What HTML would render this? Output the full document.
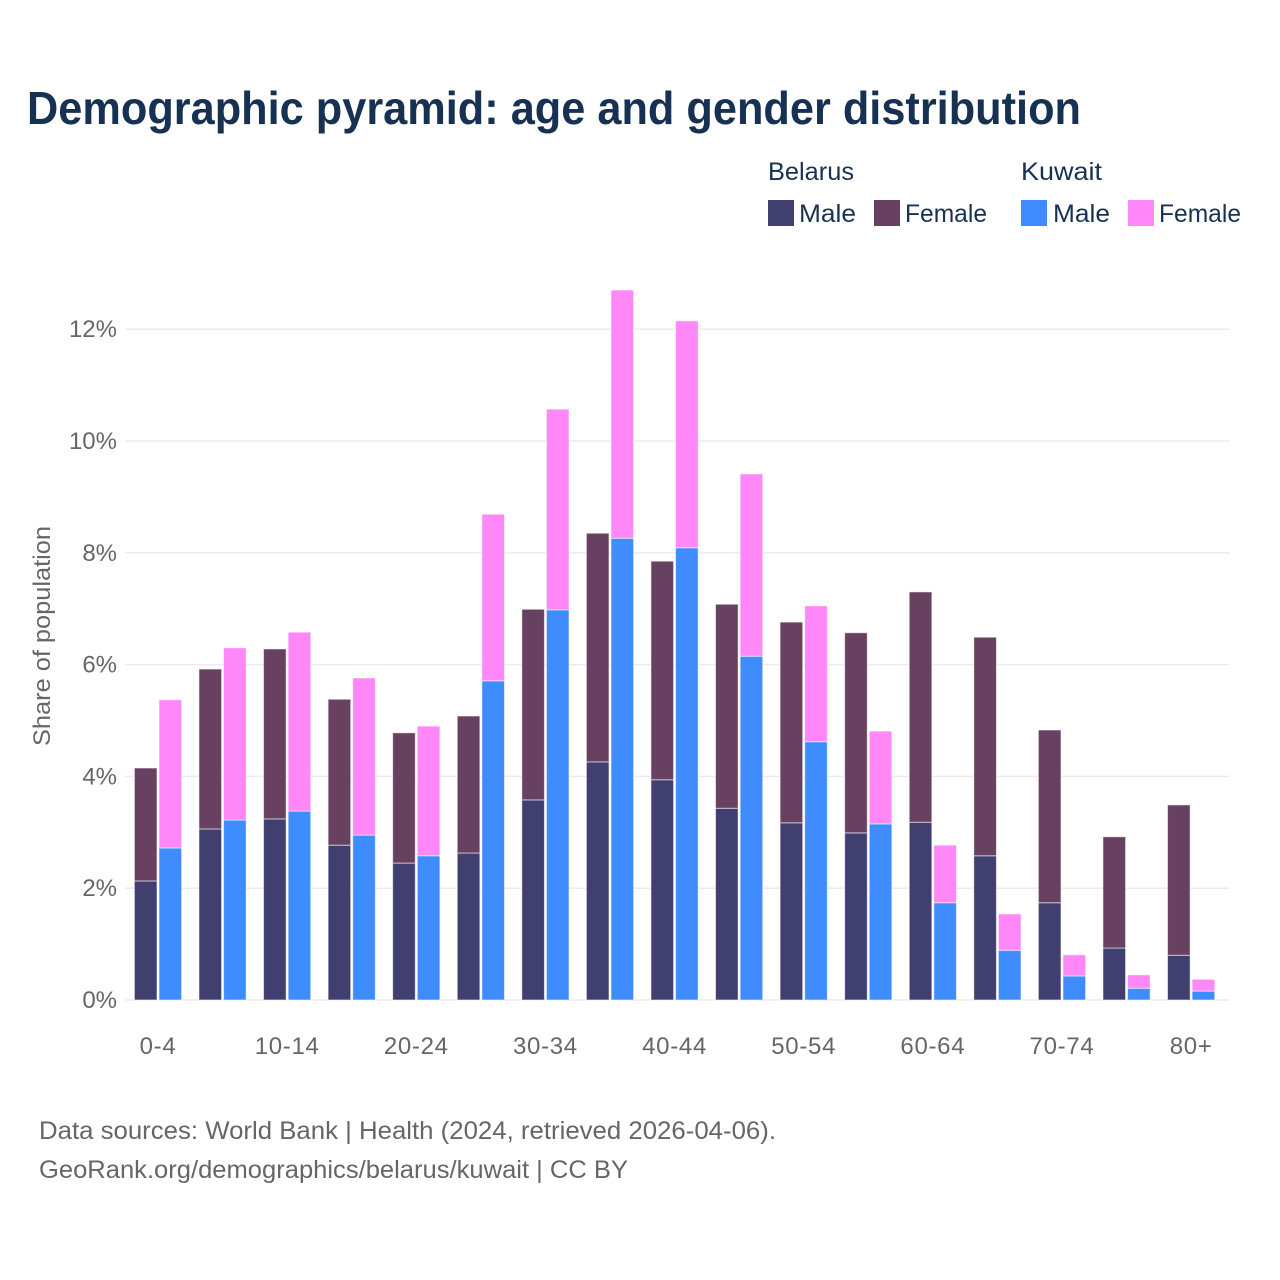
<!DOCTYPE html>
<html lang="en">
<head>
<meta charset="utf-8">
<title>Demographic pyramid</title>
<style>
html,body{margin:0;padding:0;background:#fff;width:1280px;height:1280px;overflow:hidden}
svg{display:block}
text{font-family:"Liberation Sans",sans-serif}
</style>
</head>
<body>
<svg id="chart" xmlns="http://www.w3.org/2000/svg" width="1280" height="1280" viewBox="0 0 1280 1280">
  <rect width="1280" height="1280" fill="#fff"/>
  <text x="27" y="124" font-size="46" font-weight="700" fill="#173153" textLength="1054" lengthAdjust="spacingAndGlyphs">Demographic pyramid: age and gender distribution</text>

  <g font-size="25" fill="#173153">
    <text x="768" y="180" textLength="86" lengthAdjust="spacingAndGlyphs">Belarus</text>
    <text x="1021" y="180" textLength="81" lengthAdjust="spacingAndGlyphs">Kuwait</text>
    <rect x="768" y="200" width="26" height="26" fill="#413f70"/>
    <text x="799" y="222" textLength="57" lengthAdjust="spacingAndGlyphs">Male</text>
    <rect x="874" y="200" width="26" height="26" fill="#684160"/>
    <text x="905" y="222" textLength="82" lengthAdjust="spacingAndGlyphs">Female</text>
    <rect x="1021" y="200" width="26" height="26" fill="#3f8cff"/>
    <text x="1053" y="222" textLength="57" lengthAdjust="spacingAndGlyphs">Male</text>
    <rect x="1128" y="200" width="26" height="26" fill="#ff87f7"/>
    <text x="1159" y="222" textLength="82" lengthAdjust="spacingAndGlyphs">Female</text>
  </g>

  <g id="grid"></g>
  <g id="yticks"></g>
  <g id="bars"></g>
  <g id="xticks"></g>

  <text transform="translate(50,636) rotate(-90)" text-anchor="middle" font-size="24" fill="#666" textLength="220" lengthAdjust="spacingAndGlyphs">Share of population</text>

  <text x="39" y="1139" font-size="25" fill="#666" textLength="737" lengthAdjust="spacingAndGlyphs">Data sources: World Bank | Health (2024, retrieved 2026-04-06).</text>
  <text x="39" y="1178" font-size="25" fill="#666" textLength="589" lengthAdjust="spacingAndGlyphs">GeoRank.org/demographics/belarus/kuwait | CC BY</text>
</svg>
<script>
const ageGroups = ['0-4','5-9','10-14','15-19','20-24','25-29','30-34','35-39','40-44','45-49','50-54','55-59','60-64','65-69','70-74','75-79','80+'];
const ageLabels = ['0-4','','10-14','','20-24','','30-34','','40-44','','50-54','','60-64','','70-74','','80+'];
const belarusMale = [2.13,3.06,3.24,2.77,2.45,2.63,3.58,4.26,3.94,3.43,3.17,2.99,3.18,2.58,1.74,0.93,0.80];
const belarusFemale = [2.02,2.86,3.04,2.61,2.33,2.45,3.41,4.09,3.91,3.65,3.59,3.58,4.12,3.91,3.09,1.99,2.69];
const kuwaitMale = [2.72,3.22,3.38,2.95,2.58,5.71,6.98,8.26,8.09,6.15,4.62,3.15,1.74,0.89,0.43,0.21,0.16];
const kuwaitFemale = [2.65,3.08,3.20,2.81,2.32,2.98,3.59,4.44,4.06,3.26,2.43,1.66,1.03,0.65,0.38,0.24,0.21];
const yTickValues = [0,2,4,6,8,10,12];

const NS = 'http://www.w3.org/2000/svg';
const yScale = v => 1000 - v * 55.9;
const xScale = i => 158 + i * 64.57;
const BAR_W = 22.6;
const BAR_OFFSET = 12.3;

function make(tag, attrs, parent) {
  const el = document.createElementNS(NS, tag);
  for (const k in attrs) el.setAttribute(k, attrs[k]);
  parent.appendChild(el);
  return el;
}

const grid = document.getElementById('grid');
const yticks = document.getElementById('yticks');
yTickValues.forEach(v => {
  const line = make('rect', {x:125, y:yScale(v)-0.75, width:1104, height:1.5, fill:'#ebebef'}, grid);
  
  
  const label = make('text', {x:117, y:yScale(v)+8, 'text-anchor':'end', 'font-size':24, fill:'#666'}, yticks);
  
  
  label.textContent = v + '%';
});

const bars = document.getElementById('bars');
function drawBar(cx, base, value, fill) {
  const top = base + value;
  const r = make('rect', {
    x: cx - BAR_W / 2,
    y: yScale(top),
    width: BAR_W,
    height: yScale(base) - yScale(top),
    fill: fill,
    stroke: '#fff',
    'stroke-opacity': 0.55,
    'stroke-width': 1
  }, bars);
  return r;
}

ageGroups.forEach((age, i) => {
  const cx = xScale(i);
  const bm = drawBar(cx - BAR_OFFSET, 0, belarusMale[i], '#413f70');
  
  
  const bf = drawBar(cx - BAR_OFFSET, belarusMale[i], belarusFemale[i], '#684160');
  
  
  const km = drawBar(cx + BAR_OFFSET, 0, kuwaitMale[i], '#3f8cff');
  
  
  const kf = drawBar(cx + BAR_OFFSET, kuwaitMale[i], kuwaitFemale[i], '#ff87f7');
  
  
});

const xticks = document.getElementById('xticks');
ageLabels.forEach((label, i) => {
  if (!label) return;
  const t = make('text', {x:xScale(i), y:1054, 'text-anchor':'middle', 'font-size':24, 'letter-spacing':0.7, fill:'#666'}, xticks);
  
  
  t.textContent = label;
});
</script>
</body>
</html>
